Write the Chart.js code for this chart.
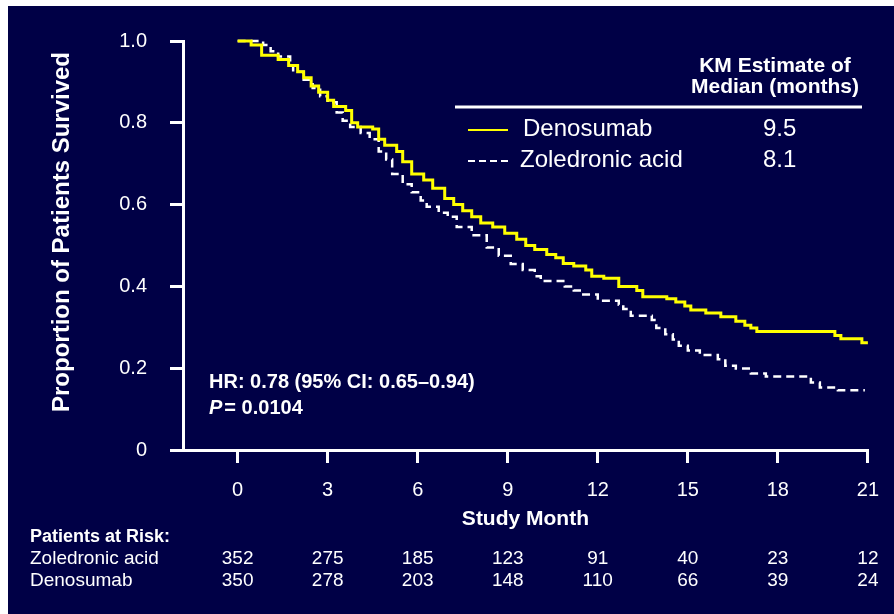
<!DOCTYPE html>
<html>
<head>
<meta charset="utf-8">
<script src="https://cdn.jsdelivr.net/npm/chart.js@4.4.0/dist/chart.umd.min.js"></script>
<style>
    html, body { margin: 0; padding: 0; background: #ffffff; }
    #wrap { position: absolute; left: 8px; top: 6px; width: 886px; height: 608px; background: #000046; }
</style>
</head>
<body>
<div id="wrap"><canvas id="kmChart" width="886" height="608"></canvas></div>
<script>
// KM curves (event month, survival after the drop)
const denoMonths = [0, 0.45, 0.8, 1.35, 1.7, 2.0, 2.2, 2.45, 2.7, 3.0, 3.2, 3.6, 3.8, 4.0, 4.5, 4.7, 4.9, 5.3, 5.5, 5.8,
    6.2, 6.5, 6.9, 7.2, 7.5, 7.8, 8.1, 8.5, 8.9, 9.3, 9.6, 9.9, 10.3, 10.6, 10.85, 11.2, 11.6, 11.8, 12.2, 12.7,
    13.3, 13.5, 14.3, 14.6, 14.9, 15.1, 15.6, 16.1, 16.6, 16.9, 17.1, 17.3, 19.9, 20.1, 20.8, 21.0];
const denoSurv = [1.0, 0.99, 0.965, 0.955, 0.94, 0.925, 0.91, 0.89, 0.875, 0.855, 0.84, 0.83, 0.80, 0.79, 0.785, 0.76, 0.745, 0.73, 0.705, 0.675,
    0.66, 0.64, 0.615, 0.60, 0.585, 0.57, 0.555, 0.545, 0.53, 0.515, 0.50, 0.49, 0.478, 0.47, 0.456, 0.45, 0.44, 0.425, 0.42, 0.40,
    0.39, 0.375, 0.37, 0.362, 0.352, 0.342, 0.335, 0.326, 0.315, 0.305, 0.298, 0.29, 0.28, 0.272, 0.262, 0.262];

const zolMonths = [0, 0.85, 1.1, 1.35, 1.75, 1.85, 2.2, 2.5, 2.75, 3.0, 3.3, 3.5, 3.75, 4.1, 4.4, 4.7, 4.95, 5.15, 5.5, 5.8,
    6.1, 6.3, 6.7, 7.0, 7.3, 7.8, 8.3, 8.7, 9.1, 9.5, 9.9, 10.1, 10.9, 11.2, 11.4, 12.0, 12.7, 12.85, 13.1, 13.8,
    13.95, 14.25, 14.5, 14.7, 15.0, 15.4, 16.0, 16.25, 16.6, 17.1, 17.6, 19.1, 19.4, 20.0, 20.9];
const zolSurv = [1.0, 0.99, 0.975, 0.962, 0.94, 0.925, 0.905, 0.885, 0.865, 0.85, 0.825, 0.805, 0.79, 0.775, 0.76, 0.73, 0.71, 0.675, 0.65, 0.63,
    0.61, 0.595, 0.58, 0.57, 0.545, 0.525, 0.495, 0.475, 0.455, 0.44, 0.425, 0.413, 0.40, 0.39, 0.38, 0.365, 0.355, 0.345, 0.328, 0.318,
    0.298, 0.283, 0.27, 0.255, 0.243, 0.232, 0.222, 0.206, 0.199, 0.187, 0.18, 0.165, 0.153, 0.146, 0.146];

const monthTicks = [0, 3, 6, 9, 12, 15, 18, 21];
const survTicks = [0, 0.2, 0.4, 0.6, 0.8, 1.0];

const riskLabels = ['Zoledronic acid', 'Denosumab'];
const riskZol = [352, 275, 185, 123, 91, 40, 23, 12];
const riskDeno = [350, 278, 203, 148, 110, 66, 39, 24];

const legendNames = ['Denosumab', 'Zoledronic acid'];
const legendMedians = ['9.5', '8.1'];

const FONT = 'Arial, "Liberation Sans", sans-serif';
const WHITE = '#ffffff';
const YELLOW = '#ffff00';

const toPoints = (xs, ys) => xs.map((x, i) => ({ x, y: ys[i] }));

const annotations = {
    id: 'annotations',
    afterDraw(chart) {
        const ctx = chart.ctx;
        const x = chart.scales.x;
        ctx.save();
        ctx.fillStyle = WHITE;
        ctx.textBaseline = 'middle';

        // y axis title
        ctx.save();
        ctx.translate(54, 226);
        ctx.rotate(-Math.PI / 2);
        ctx.textAlign = 'center';
        ctx.font = `bold 24px ${FONT}`;
        ctx.fillText('Proportion of Patients Survived', 0, 0);
        ctx.restore();

        // legend table
        ctx.textAlign = 'center';
        ctx.font = `bold 21px ${FONT}`;
        ctx.fillText('KM Estimate of', 767, 60);
        ctx.fillText('Median (months)', 767, 81);
        ctx.strokeStyle = WHITE;
        ctx.lineWidth = 3;
        ctx.beginPath();
        ctx.moveTo(447, 101);
        ctx.lineTo(854, 101);
        ctx.stroke();

        const rowY = [123, 154];
        ctx.textAlign = 'left';
        ctx.font = `24px ${FONT}`;
        legendNames.forEach((name, i) => {
            ctx.fillText(name, i === 0 ? 515 : 512, rowY[i]);
            ctx.fillText(legendMedians[i], 755, rowY[i]);
        });
        ctx.lineWidth = 2;
        ctx.strokeStyle = YELLOW;
        ctx.beginPath();
        ctx.moveTo(460, rowY[0] + 1);
        ctx.lineTo(500, rowY[0] + 1);
        ctx.stroke();
        ctx.strokeStyle = WHITE;
        ctx.setLineDash([7, 4]);
        ctx.beginPath();
        ctx.moveTo(460, rowY[1] + 1);
        ctx.lineTo(500, rowY[1] + 1);
        ctx.stroke();
        ctx.setLineDash([]);

        // hazard ratio
        ctx.font = `bold 20px ${FONT}`;
        ctx.fillText('HR: 0.78 (95% CI: 0.65\u20130.94)', 201, 376);
        ctx.font = `italic bold 20px ${FONT}`;
        ctx.fillText('P', 201, 402);
        const pw = ctx.measureText('P').width;
        ctx.font = `bold 20px ${FONT}`;
        ctx.fillText('= 0.0104', 201 + pw + 2, 402);

        // patients at risk
        ctx.font = `bold 18px ${FONT}`;
        ctx.fillText('Patients at Risk:', 22, 531);
        ctx.font = `19px ${FONT}`;
        [riskZol, riskDeno].forEach((row, r) => {
            const y = 553 + r * 22;
            ctx.textAlign = 'left';
            ctx.fillText(riskLabels[r], 22, y);
            ctx.textAlign = 'center';
            row.forEach((n, i) => ctx.fillText(String(n), x.getPixelForValue(monthTicks[i]), y));
        });
        ctx.restore();
    }
};

new Chart(document.getElementById('kmChart'), {
    type: 'line',
    data: {
        datasets: [
            {
                label: 'Denosumab',
                data: toPoints(denoMonths, denoSurv),
                borderColor: YELLOW,
                borderWidth: 3,
                stepped: true,
                pointRadius: 0,
                clip: 4
            },
            {
                label: 'Zoledronic acid',
                data: toPoints(zolMonths, zolSurv),
                borderColor: WHITE,
                borderWidth: 2.5,
                borderDash: [8, 5],
                stepped: true,
                pointRadius: 0,
                clip: 4
            }
        ]
    },
    options: {
        responsive: false,
        devicePixelRatio: 1,
        animation: false,
        layout: {
            autoPadding: false,
            padding: { left: 0, top: 29, right: 23, bottom: 82 }
        },
        plugins: {
            legend: { display: false },
            tooltip: { enabled: false }
        },
        scales: {
            x: {
                type: 'linear',
                min: -1.82,
                max: 21,
                afterFit: (s) => { s.height = 82; },
                afterBuildTicks: (s) => { s.ticks = monthTicks.map(v => ({ value: v })); },
                grid: { drawOnChartArea: false, drawTicks: true, tickLength: 13, color: WHITE, lineWidth: 3 },
                border: { display: true, color: WHITE, width: 3 },
                ticks: {
                    color: WHITE,
                    padding: 15,
                    maxRotation: 0,
                    autoSkip: false,
                    font: { family: FONT, size: 20 }
                },
                title: {
                    display: true,
                    text: 'Study Month',
                    color: WHITE,
                    padding: { top: 0, bottom: 0 },
                    font: { family: FONT, size: 21, weight: 'bold' }
                }
            },
            y: {
                min: 0,
                max: 1,
                afterFit: (s) => { s.width = 175; },
                afterBuildTicks: (s) => { s.ticks = survTicks.map(v => ({ value: v })); },
                grid: { drawOnChartArea: false, drawTicks: true, tickLength: 13, color: WHITE, lineWidth: 3 },
                border: { display: true, color: WHITE, width: 3 },
                ticks: {
                    color: WHITE,
                    padding: 23,
                    font: { family: FONT, size: 20 },
                    callback: (v) => v === 0 ? '0' : v.toFixed(1)
                }
            }
        }
    },
    plugins: [annotations]
});
</script>
</body>
</html>
